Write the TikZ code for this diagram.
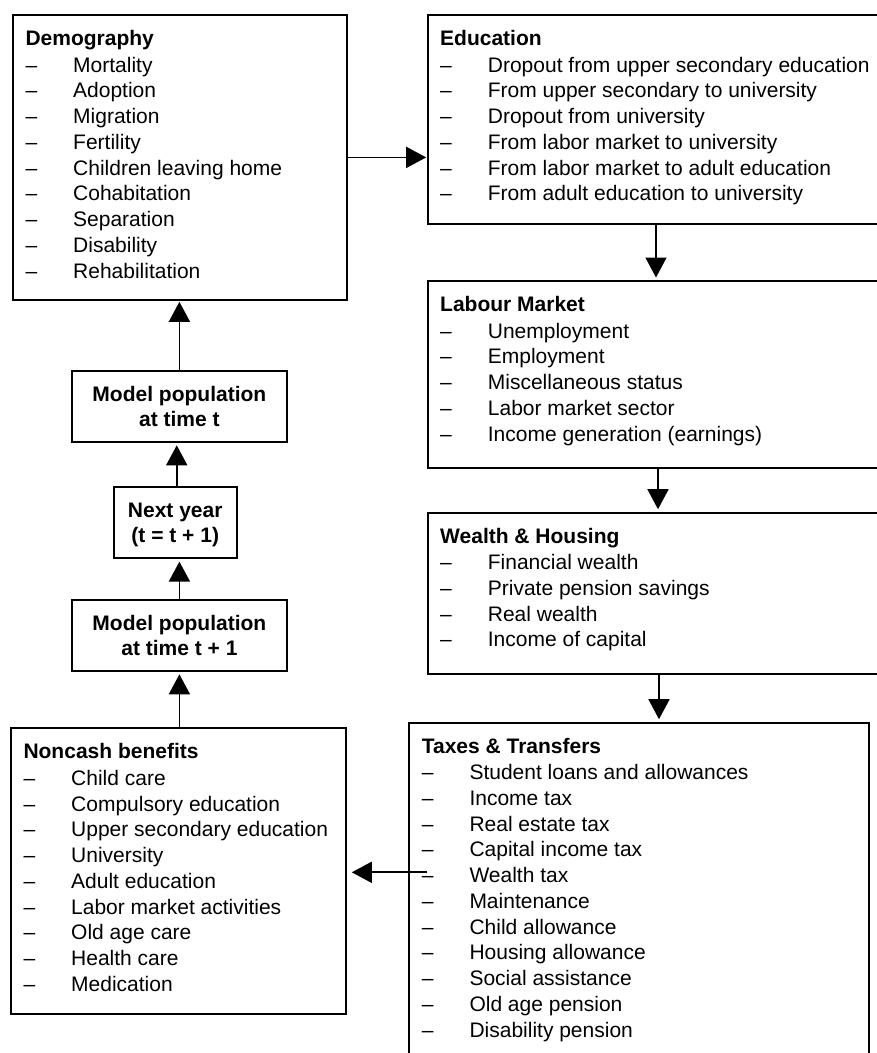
\documentclass[tikz,border=0pt]{standalone}
\usepackage{fontspec}
\setmainfont{Liberation Sans}
\usetikzlibrary{calc,arrows.meta}
\newcommand{\mybodyfont}{\fontsize{21}{25.75}\selectfont}
\newcommand{\listtext}[3]{%
  \node[titletext] (#1-t) at ($(#1.north west)+(13.3,31.5)$) {#2};
  \foreach \itm [count=\k from 0] in {#3}{%
    \node[itemtext] (#1-d\k) at ($(#1.north west)+(13.3,58+25.75*\k)$) {--};
    \node[itemtext] (#1-i\k) at ($(#1.north west)+(61,58+25.75*\k)$) {\itm};
  }%
}
\tikzset{
  boxst/.style={draw=black, line width=1.8pt, rectangle, inner sep=0pt, anchor=north west},
  titletext/.style={anchor=base west, inner sep=0pt, font=\mybodyfont\bfseries},
  itemtext/.style={anchor=base west, inner sep=0pt, font=\mybodyfont},
  ctrtext/.style={anchor=base, inner sep=0pt, font=\mybodyfont\bfseries},
  flow/.style={line width=1.7pt, -{Triangle[length=20pt,width=21pt]}, shorten >=2.5pt},
}
\begin{document}
\begin{tikzpicture}[x=1pt,y=-1pt]
\useasboundingbox (0,0) rectangle (877,1053);
\clip (0,0) rectangle (877,1053);
% boxes
\node[boxst, minimum width=334pt, minimum height=285pt] (demo) at (12,14) {};
\node[boxst, minimum width=470pt, minimum height=209.3pt] (edu) at (426.7,14) {};
\node[boxst, minimum width=470pt, minimum height=187.3pt] (lab) at (426.7,280) {};
\node[boxst, minimum width=470pt, minimum height=161pt] (wea) at (426.7,511.7) {};
\node[boxst, minimum width=460pt, minimum height=350pt] (tax) at (408.3,721.7) {};
\node[boxst, minimum width=335pt, minimum height=285.7pt] (nonc) at (10,727.3) {};
\node[boxst, minimum width=215pt, minimum height=71pt] (mpt) at (71,370) {};
\node[boxst, minimum width=123.3pt, minimum height=71.3pt] (next) at (112.7,486) {};
\node[boxst, minimum width=215pt, minimum height=70.7pt] (mpt1) at (71,599.3) {};
% list texts
\listtext{demo}{Demography}{Mortality,Adoption,Migration,Fertility,Children leaving home,Cohabitation,Separation,Disability,Rehabilitation}
\listtext{edu}{Education}{Dropout from upper secondary education,From upper secondary to university,Dropout from university,From labor market to university,From labor market to adult education,From adult education to university}
\listtext{lab}{Labour Market}{Unemployment,Employment,Miscellaneous status,Labor market sector,Income generation (earnings)}
\listtext{wea}{Wealth \& Housing}{Financial wealth,Private pension savings,Real wealth,Income of capital}
\listtext{tax}{Taxes \& Transfers}{Student loans and allowances,Income tax,Real estate tax,Capital income tax,Wealth tax,Maintenance,Child allowance,Housing allowance,Social assistance,Old age pension,Disability pension}
\listtext{nonc}{Noncash benefits}{Child care,Compulsory education,Upper secondary education,University,Adult education,Labor market activities,Old age care,Health care,Medication}
% centred texts
\node[ctrtext] (mpt-a) at ($(mpt.north)+(0,31.5)$) {Model population};
\node[ctrtext] (mpt-b) at ($(mpt.north)+(0,56.5)$) {at time t};
\node[ctrtext] (next-a) at ($(next.north)+(0,31.5)$) {Next year};
\node[ctrtext] (next-b) at ($(next.north)+(0,56.5)$) {(t = t + 1)};
\node[ctrtext] (mpt1-a) at ($(mpt1.north)+(0,31.5)$) {Model population};
\node[ctrtext] (mpt1-b) at ($(mpt1.north)+(0,56.5)$) {at time t + 1};
% connector x positions
\coordinate (x1) at (656,0);
\coordinate (x2) at (658,0);
\coordinate (x3) at (659,0);
\coordinate (tn) at (427.3,872.3);
% arrows
\draw[flow, shorten >=0.5pt] (demo.east) -- (demo.east -| edu.west);
\draw[flow] (x1 |- edu.south) -- (x1 |- lab.north);
\draw[flow] (x2 |- lab.south) -- (x2 |- wea.north);
\draw[flow] (x3 |- wea.south) -- (x3 |- tax.north);
\draw[flow, shorten >=5pt] (tn) -- (tn -| nonc.east);
\draw[flow] (mpt1.south |- nonc.north) -- (mpt1.south);
\draw[flow] (mpt1.north) -- (mpt1.north |- next.south);
\draw[flow] ($(next.north)+(1.5,0)$) -- ($(next.north |- mpt.south)+(1.5,0)$);
\draw[flow, shorten >=1pt] (mpt.north) -- (mpt.north |- demo.south);
\end{tikzpicture}
\end{document}
